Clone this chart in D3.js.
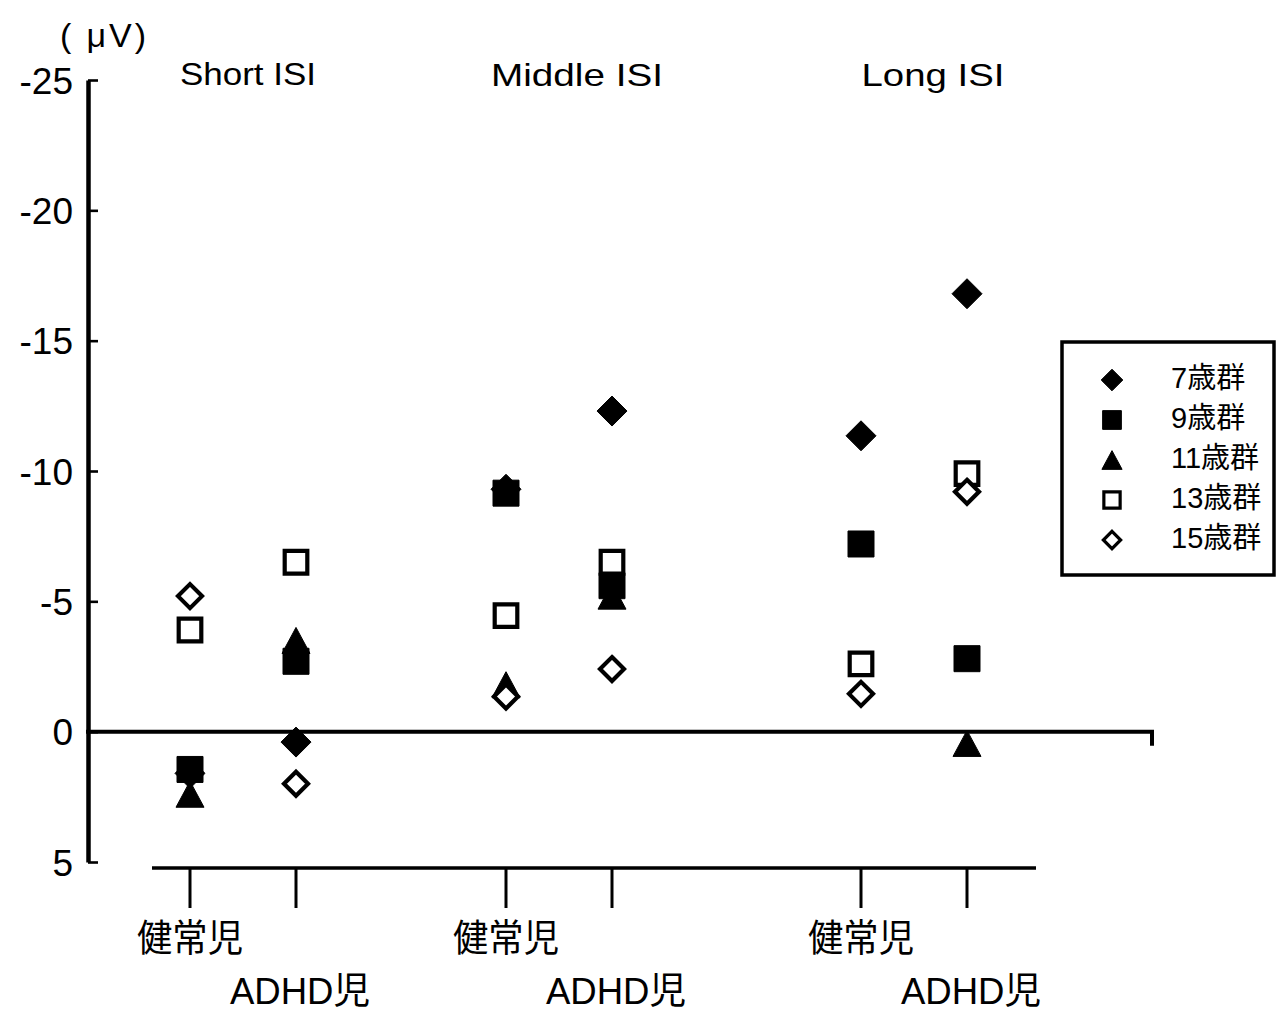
<!DOCTYPE html>
<html>
<head>
<meta charset="utf-8">
<script src="https://cdn.jsdelivr.net/npm/d3@7"></script>
<style>
  html, body { margin: 0; padding: 0; background: #fff; }
  svg { display: block; }
  text { font-family: "Liberation Sans", "Noto Sans CJK JP", sans-serif; fill: #000; }
</style>
</head>
<body>
<svg id="chart" width="1286" height="1016"></svg>
<script>
// ISI conditions and subject groups along the x axis
const conditions = ["Short ISI", "Middle ISI", "Long ISI"];
const subjects = ["健常児", "ADHD児"];
const ageGroups = ["7歳群", "9歳群", "11歳群", "13歳群", "15歳群"];

// Mean amplitude (µV) per age group, ordered:
// Short 健常児, Short ADHD児, Middle 健常児, Middle ADHD児, Long 健常児, Long ADHD児
const age7  = [1.6, 0.4, -9.3, -12.3, -11.35, -16.8];
const age9  = [1.45, -2.7, -9.15, -5.6, -7.2, -2.8];
const age11 = [2.4, -3.5, -1.8, -5.2, null, 0.45];
const age13 = [-3.9, -6.5, -4.45, -6.5, -2.6, -9.9];
const age15 = [-5.2, 2.0, -1.35, -2.4, -1.45, -9.2];

const yTicks = [-25, -20, -15, -10, -5, 0, 5];
const unitLabel = "( μV)";

const seriesValues = [age7, age9, age11, age13, age15];

// marker look for each age group
const markerStyle = {
  "7歳群":  { shape: "diamond",  filled: true,  r: 15 },
  "9歳群":  { shape: "square",   filled: true,  r: 13 },
  "11歳群": { shape: "triangle", filled: true,  r: 14 },
  "13歳群": { shape: "square",   filled: false, r: 11.3 },
  "15歳群": { shape: "diamond",  filled: false, r: 12 }
};

function markerPath(shape, r) {
  if (shape === "diamond") return `M0,${-r}L${r},0L0,${r}L${-r},0Z`;
  if (shape === "square") return `M${-r},${-r}H${r}V${r}H${-r}Z`;
  // triangle: base 2r, height slightly under 2r
  const h = r * 0.93;
  return `M0,${-h}L${r},${h}L${-r},${h}Z`;
}

const svg = d3.select("#chart");

// scales
const y = d3.scaleLinear().domain([-25, 5]).range([80, 862]);
const groupX = d3.scaleOrdinal().domain(conditions).range([242, 558, 913]);
const subX = d3.scalePoint().domain(subjects).range([-52, 54]);
const colX = (c, s) => groupX(c) + subX(s);

// columns in data order
const columns = [];
conditions.forEach(c => subjects.forEach(s => columns.push({ c, s })));

// y axis (ticks pointing inward)
const yAxis = d3.axisLeft(y)
  .tickValues(yTicks)
  .tickSizeInner(-10)
  .tickSizeOuter(0)
  .tickPadding(15)
  .tickFormat(d => String(d));

const gy = svg.append("g").attr("transform", "translate(88,0)").call(yAxis);
gy.select(".domain").attr("stroke", "#000").attr("stroke-width", 4.5);
gy.selectAll(".tick line").attr("stroke", "#000").attr("stroke-width", 2.6);
gy.selectAll(".tick text")
  .attr("font-size", 37)
  .attr("font-family", "Liberation Sans, sans-serif")
  .attr("dy", "0.36em")
  .attr("fill", "#000");

// unit label
svg.append("text")
  .attr("x", 60).attr("y", 47)
  .attr("font-size", 34)
  .attr("textLength", 86)
  .attr("lengthAdjust", "spacing")
  .text(unitLabel);

// zero reference line with end tick
svg.append("path")
  .attr("d", `M86,${y(0)}H1152V${y(0) + 14}`)
  .attr("fill", "none")
  .attr("stroke", "#000")
  .attr("stroke-width", 4);

// category axis below the plot
const baseY = 868;
svg.append("line")
  .attr("x1", 152).attr("x2", 1036)
  .attr("y1", baseY).attr("y2", baseY)
  .attr("stroke", "#000").attr("stroke-width", 3.5);

svg.selectAll(".xtick")
  .data(columns)
  .join("line")
  .attr("class", "xtick")
  .attr("x1", d => colX(d.c, d.s)).attr("x2", d => colX(d.c, d.s))
  .attr("y1", baseY).attr("y2", baseY + 40)
  .attr("stroke", "#000").attr("stroke-width", 3);

svg.selectAll(".xlabel")
  .data(columns)
  .join("text")
  .attr("class", "xlabel")
  .attr("x", d => colX(d.c, d.s) + (d.s === "ADHD児" ? 4 : 0))
  .attr("y", d => d.s === "健常児" ? 951 : 1004)
  .attr("text-anchor", "middle")
  .attr("font-size", d => d.s === "健常児" ? 38 : 37)
  .attr("textLength", d => d.s === "健常児" ? 106 : 140)
  .attr("lengthAdjust", "spacingAndGlyphs")
  .text(d => d.s);

// condition titles
const titleWidth = { "Short ISI": 136, "Middle ISI": 172, "Long ISI": 143 };
svg.selectAll(".title")
  .data(conditions)
  .join("text")
  .attr("class", "title")
  .attr("x", d => groupX(d) + (d === "Long ISI" ? 20 : d === "Middle ISI" ? 19 : 6))
  .attr("y", d => d === "Short ISI" ? 85 : 86)
  .attr("text-anchor", "middle")
  .attr("font-size", 32)
  .attr("textLength", d => titleWidth[d])
  .attr("lengthAdjust", "spacingAndGlyphs")
  .text(d => d);

// points: filled markers first, open markers (white fill) on top
const points = [];
ageGroups.forEach((a, i) => {
  seriesValues[i].forEach((v, j) => {
    if (v !== null) points.push({ age: a, value: v, c: columns[j].c, s: columns[j].s });
  });
});

function styleMarker(sel, scaleFactor) {
  sel.attr("d", d => markerPath(markerStyle[d.age].shape, markerStyle[d.age].r * scaleFactor))
    .attr("fill", d => markerStyle[d.age].filled ? "#000" : "#fff")
    .attr("stroke", "#000")
    .attr("stroke-width", d => markerStyle[d.age].filled ? 1 : 3.6 * scaleFactor + 0.6)
    .attr("stroke-linejoin", "miter");
}

svg.append("g")
  .selectAll("path")
  .data(points)
  .join("path")
  .attr("transform", d => `translate(${colX(d.c, d.s)},${y(d.value)})`)
  .call(styleMarker, 1);

// legend
const legend = svg.append("g");
legend.append("rect")
  .attr("x", 1062).attr("y", 342)
  .attr("width", 212).attr("height", 233)
  .attr("fill", "#fff")
  .attr("stroke", "#000").attr("stroke-width", 3.5);

const legendY = d3.scalePoint().domain(ageGroups).range([380, 540]);
legend.selectAll("path")
  .data(ageGroups.map(a => ({ age: a })))
  .join("path")
  .attr("transform", d => `translate(1112,${legendY(d.age)})`)
  .call(styleMarker, 0.72);

legend.selectAll("text")
  .data(ageGroups)
  .join("text")
  .attr("x", 1171)
  .attr("y", d => legendY(d) - 2)
  .attr("dy", "0.36em")
  .attr("font-size", 29)
  .text(d => d);
</script>
</body>
</html>
